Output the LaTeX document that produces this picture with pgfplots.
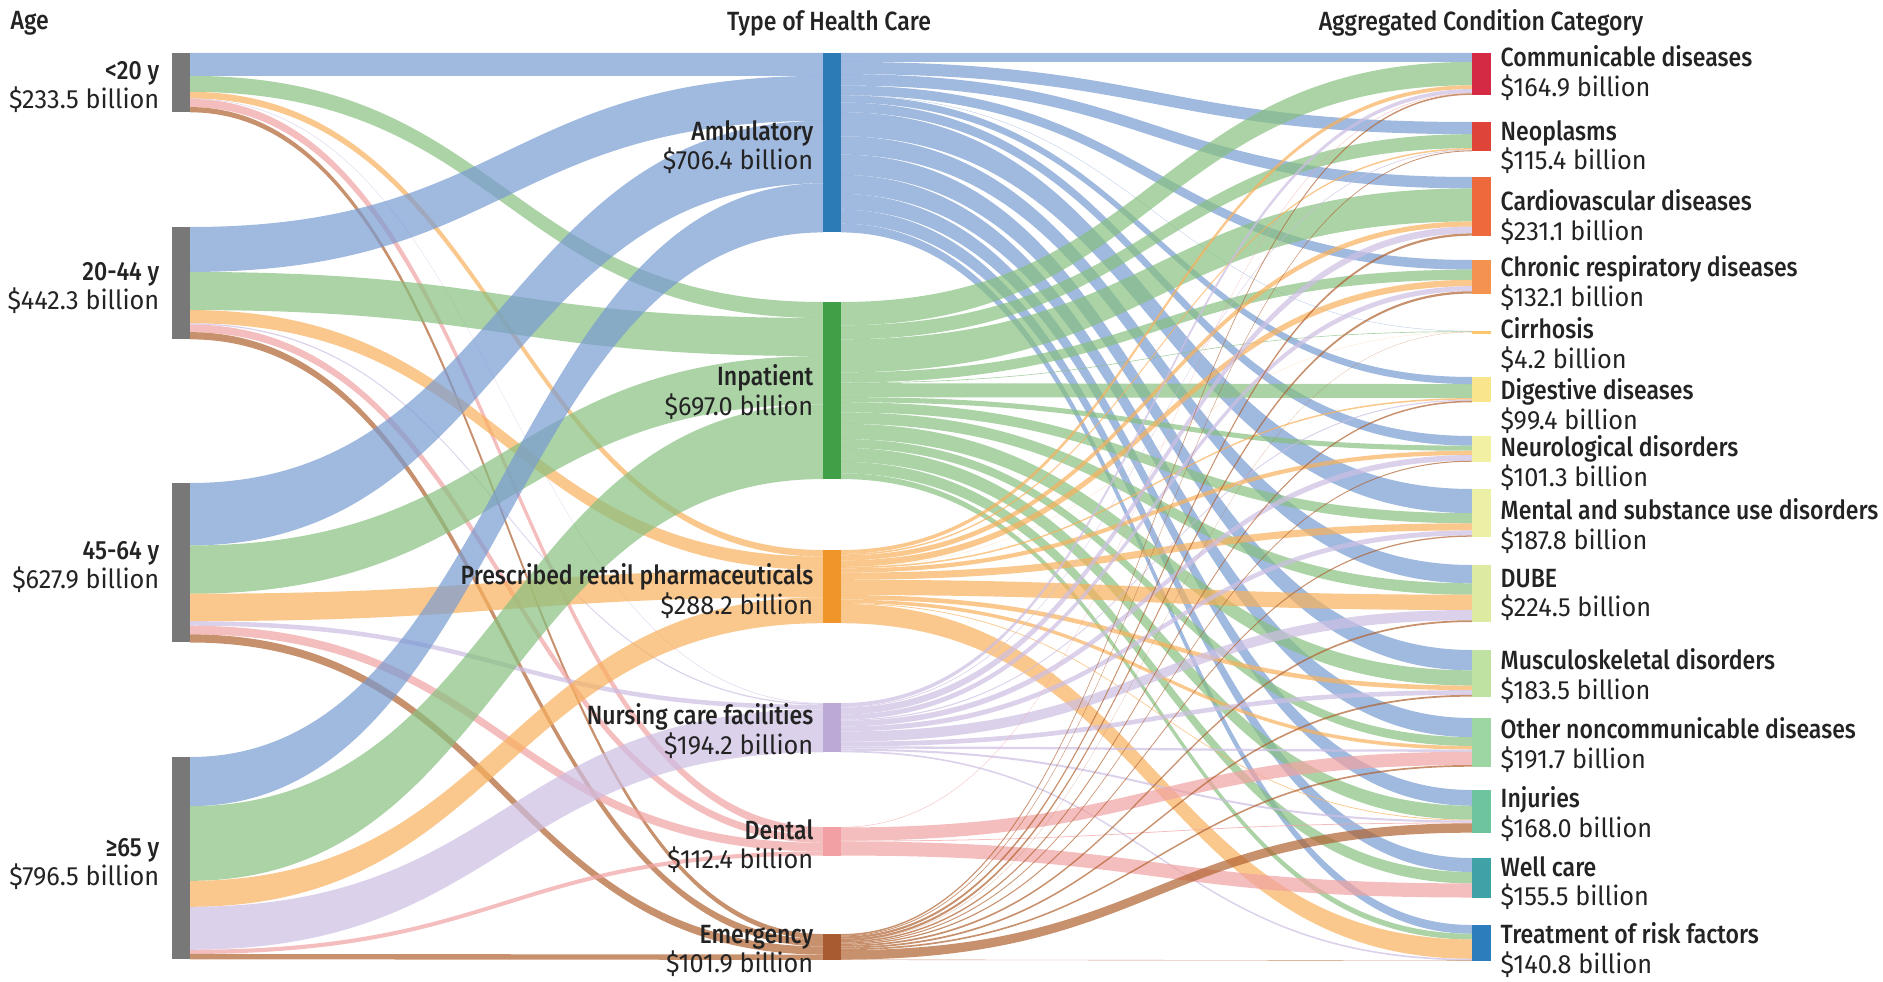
\documentclass[border=0pt]{standalone}
\usepackage{fontspec}
\setmainfont{Fira Sans}[FakeStretch=0.96,BoldFont={Fira Sans Medium},BoldFeatures={FakeStretch=0.875}]
\usepackage{pgfplots}
\usepackage{pgfplotstable}
\pgfplotsset{compat=1.18}

% band colours (by type of health care)
\definecolor{bc0}{RGB}{120,155,210}
\definecolor{bc1}{RGB}{135,192,128}
\definecolor{bc2}{RGB}{248,176,91}
\definecolor{bc3}{RGB}{205,190,227}
\definecolor{bc4}{RGB}{241,162,162}
\definecolor{bc5}{RGB}{177,98,48}
% type node colours
\definecolor{tc0}{RGB}{44,123,182}
\definecolor{tc1}{RGB}{63,160,72}
\definecolor{tc2}{RGB}{240,149,42}
\definecolor{tc3}{RGB}{188,169,214}
\definecolor{tc4}{RGB}{242,160,164}
\definecolor{tc5}{RGB}{168,90,48}
\definecolor{agec}{RGB}{120,120,120}
% condition node colours
\definecolor{cc0}{RGB}{212,42,68}
\definecolor{cc1}{RGB}{223,68,56}
\definecolor{cc2}{RGB}{238,105,60}
\definecolor{cc3}{RGB}{244,147,80}
\definecolor{cc4}{RGB}{249,198,107}
\definecolor{cc5}{RGB}{249,230,140}
\definecolor{cc6}{RGB}{242,240,162}
\definecolor{cc7}{RGB}{235,240,166}
\definecolor{cc8}{RGB}{220,235,161}
\definecolor{cc9}{RGB}{191,226,162}
\definecolor{cc10}{RGB}{157,214,162}
\definecolor{cc11}{RGB}{109,197,157}
\definecolor{cc12}{RGB}{63,162,166}
\definecolor{cc13}{RGB}{43,125,188}
\definecolor{txt}{RGB}{35,35,35}

% Age (rows: <20, 20-44, 45-64, >=65) -> type (cols: ambulatory, inpatient, pharma, nursing, dental, emergency), $ billion
\pgfplotstableread{
c0 c1 c2 c3 c4 c5
90 63 26 2 32 20.5
177 150 52 5 30 28.3
245.9 190 108 18 34 32
193.5 294 102.2 169.2 16.4 21.1
}\agetype

% Condition (rows) <- type (cols), $ billion
\pgfplotstableread{
c0 c1 c2 c3 c4 c5
35 92 15 15.1 1.8 6
48 55 6 3 0 3.4
45 130 20 27.1 0 9
38 40 25 20.1 0 9
1 2.5 0.2 0 0 0.5
28 55 6 4.4 0 6
38 20 17 22.3 0 4
95 40 28 19.8 0 5
72 45 60 40.5 0 7
80 60 18 18.5 0 7
75 35 14 9 52 6.7
62 55 3 8 3.1 36.9
55 45 0 0 55.5 0
34.4 22.5 76 6.5 0 1.4
}\typecond

\def\agetops{{53,227,483,757}}
\def\typetops{{53,302,550,703,827,934}}
\def\condtops{{53,122,177,260,331,377,436,489,565,650,718,790,858,925}}
\def\scl{0.254}
\tikzset{lab/.style={text=txt,font=\fontsize{7.5}{8.4}\selectfont,inner sep=0pt}}

\begin{document}
\begin{tikzpicture}
\begin{axis}[width=18.83cm,height=9.81cm,scale only axis,
  xmin=0,xmax=1883,ymin=0,ymax=981,y dir=reverse,
  hide axis,clip=false]
\pgfplotsextra{%
  \path (axis cs:0,0) (axis cs:1883,981);
  \foreach \i in {0,...,3}{\expandafter\xdef\csname aout\i\endcsname{0}}%
  \foreach \j in {0,...,5}{\expandafter\xdef\csname tin\j\endcsname{0}\expandafter\xdef\csname tout\j\endcsname{0}}%
  \foreach \k in {0,...,13}{\expandafter\xdef\csname cin\k\endcsname{0}}%
  % age -> type
  \foreach \i in {0,...,3}{%
    \foreach \j in {0,...,5}{%
      \pgfplotstablegetelem{\i}{c\j}\of\agetype
      \edef\v{\pgfplotsretval}%
      \edef\ao{\csname aout\i\endcsname}%
      \edef\ti{\csname tin\j\endcsname}%
      \pgfmathsetmacro\ya{\agetops[\i]+\scl*\ao}%
      \pgfmathsetmacro\yb{\typetops[\j]+\scl*\ti}%
      \pgfmathsetmacro\thk{\scl*\v}%
      \pgfmathsetmacro\yaa{\ya+\thk}%
      \pgfmathsetmacro\ybb{\yb+\thk}%
      \ifdim\v pt>0pt
        \fill[bc\j,opacity=0.7] (axis cs:190,\ya) .. controls (axis cs:506,\ya) and (axis cs:506,\yb) .. (axis cs:823,\yb)
          -- (axis cs:823,\ybb) .. controls (axis cs:506,\ybb) and (axis cs:506,\yaa) .. (axis cs:190,\yaa) -- cycle;
      \fi
      \pgfmathsetmacro\tmp{\ao+\v}\expandafter\xdef\csname aout\i\endcsname{\tmp}%
      \pgfmathsetmacro\tmp{\ti+\v}\expandafter\xdef\csname tin\j\endcsname{\tmp}%
    }%
  }%
  % type -> condition
  \foreach \j in {0,...,5}{%
    \foreach \k in {0,...,13}{%
      \pgfplotstablegetelem{\k}{c\j}\of\typecond
      \edef\v{\pgfplotsretval}%
      \edef\to{\csname tout\j\endcsname}%
      \edef\ci{\csname cin\k\endcsname}%
      \pgfmathsetmacro\ya{\typetops[\j]+\scl*\to}%
      \pgfmathsetmacro\yb{\condtops[\k]+\scl*\ci}%
      \pgfmathsetmacro\thk{\scl*\v}%
      \pgfmathsetmacro\yaa{\ya+\thk}%
      \pgfmathsetmacro\ybb{\yb+\thk}%
      \ifdim\v pt>0pt
        \fill[bc\j,opacity=0.7] (axis cs:841,\ya) .. controls (axis cs:1156,\ya) and (axis cs:1156,\yb) .. (axis cs:1472,\yb)
          -- (axis cs:1472,\ybb) .. controls (axis cs:1156,\ybb) and (axis cs:1156,\yaa) .. (axis cs:841,\yaa) -- cycle;
      \fi
      \pgfmathsetmacro\tmp{\to+\v}\expandafter\xdef\csname tout\j\endcsname{\tmp}%
      \pgfmathsetmacro\tmp{\ci+\v}\expandafter\xdef\csname cin\k\endcsname{\tmp}%
    }%
  }%
  % nodes
  \foreach \i in {0,...,3}{%
    \edef\ao{\csname aout\i\endcsname}%
    \pgfmathsetmacro\ya{\agetops[\i]}\pgfmathsetmacro\yb{\ya+\scl*\ao}%
    \fill[agec] (axis cs:172,\ya) rectangle (axis cs:190,\yb);
  }%
  \foreach \j in {0,...,5}{%
    \edef\ti{\csname tin\j\endcsname}%
    \pgfmathsetmacro\ya{\typetops[\j]}\pgfmathsetmacro\yb{\ya+\scl*\ti}%
    \fill[tc\j] (axis cs:823,\ya) rectangle (axis cs:841,\yb);
  }%
  \foreach \k in {0,...,13}{%
    \edef\ci{\csname cin\k\endcsname}%
    \pgfmathsetmacro\ya{\condtops[\k]}\pgfmathsetmacro\yb{\ya+max(\scl*\ci,2.5)}%
    \fill[cc\k] (axis cs:1472,\ya) rectangle (axis cs:1491,\yb);
  }%
}
% titles
\node[lab,anchor=west] at (axis cs:10,23) {\bfseries Age};
\node[lab] at (axis cs:829,23) {\bfseries Type of Health Care};
\node[lab] at (axis cs:1481,23) {\bfseries Aggregated Condition Category};
% age labels
\node[lab,anchor=east,align=right] at (axis cs:160,87) {\bfseries <20 y\\\$233.5 billion};
\node[lab,anchor=east,align=right] at (axis cs:160,288) {\bfseries 20-44 y\\\$442.3 billion};
\node[lab,anchor=east,align=right] at (axis cs:160,567) {\bfseries 45-64 y\\\$627.9 billion};
\node[lab,anchor=east,align=right] at (axis cs:160,864) {\bfseries ≥65 y\\\$796.5 billion};
% type labels
\node[lab,anchor=east,align=right] at (axis cs:814,147) {\bfseries Ambulatory\\\$706.4 billion};
\node[lab,anchor=east,align=right] at (axis cs:814,392) {\bfseries Inpatient\\\$697.0 billion};
\node[lab,anchor=east,align=right] at (axis cs:814,591) {\bfseries Prescribed retail pharmaceuticals\\\$288.2 billion};
\node[lab,anchor=east,align=right] at (axis cs:814,731) {\bfseries Nursing care facilities\\\$194.2 billion};
\node[lab,anchor=east,align=right] at (axis cs:814,846) {\bfseries Dental\\\$112.4 billion};
\node[lab,anchor=east,align=right] at (axis cs:814,951) {\bfseries Emergency\\\$101.9 billion};
% condition labels
\node[lab,anchor=west,align=left] at (axis cs:1500,73) {\bfseries Communicable diseases\\\$164.9 billion};
\node[lab,anchor=west,align=left] at (axis cs:1500,147) {\bfseries Neoplasms\\\$115.4 billion};
\node[lab,anchor=west,align=left] at (axis cs:1500,217) {\bfseries Cardiovascular diseases\\\$231.1 billion};
\node[lab,anchor=west,align=left] at (axis cs:1500,283) {\bfseries Chronic respiratory diseases\\\$132.1 billion};
\node[lab,anchor=west,align=left] at (axis cs:1500,345) {\bfseries Cirrhosis\\\$4.2 billion};
\node[lab,anchor=west,align=left] at (axis cs:1500,406) {\bfseries Digestive diseases\\\$99.4 billion};
\node[lab,anchor=west,align=left] at (axis cs:1500,463) {\bfseries Neurological disorders\\\$101.3 billion};
\node[lab,anchor=west,align=left] at (axis cs:1500,526) {\bfseries Mental and substance use disorders\\\$187.8 billion};
\node[lab,anchor=west,align=left] at (axis cs:1500,595) {\bfseries DUBE\\\$224.5 billion};
\node[lab,anchor=west,align=left] at (axis cs:1500,676) {\bfseries Musculoskeletal disorders\\\$183.5 billion};
\node[lab,anchor=west,align=left] at (axis cs:1500,745) {\bfseries Other noncommunicable diseases\\\$191.7 billion};
\node[lab,anchor=west,align=left] at (axis cs:1500,814) {\bfseries Injuries\\\$168.0 billion};
\node[lab,anchor=west,align=left] at (axis cs:1500,883) {\bfseries Well care\\\$155.5 billion};
\node[lab,anchor=west,align=left] at (axis cs:1500,950) {\bfseries Treatment of risk factors\\\$140.8 billion};
\end{axis}
\end{tikzpicture}
\end{document}
